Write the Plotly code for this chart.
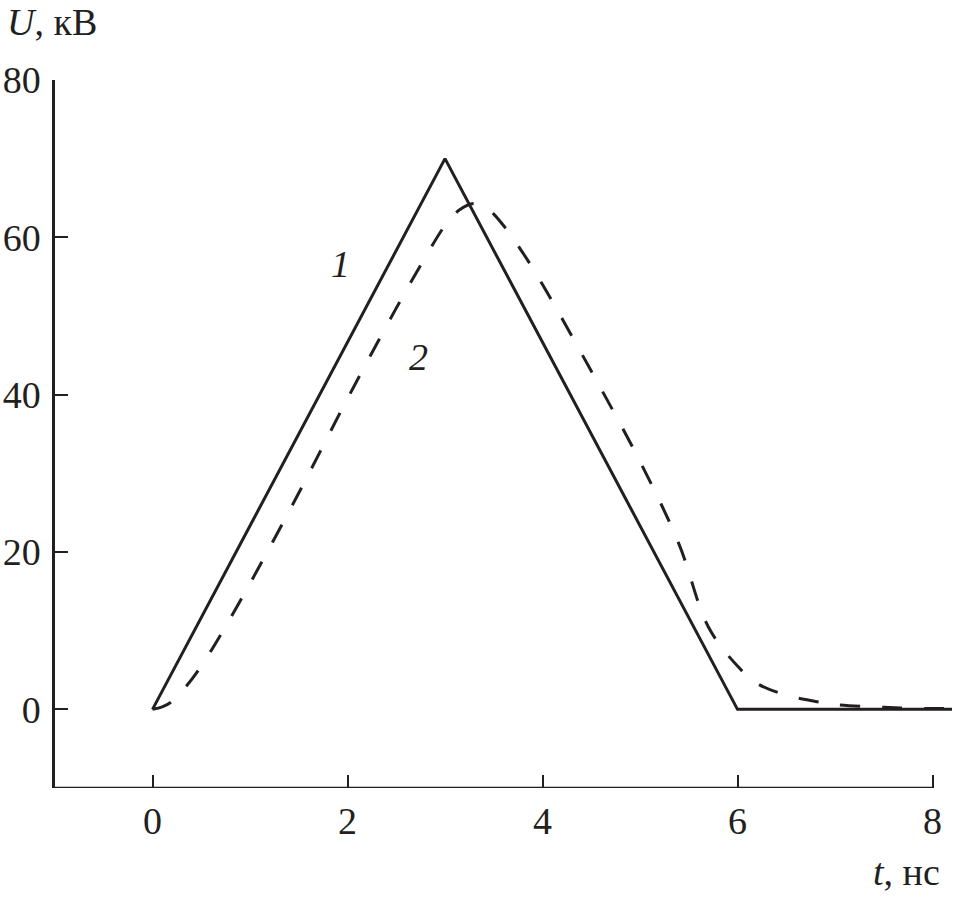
import plotly.graph_objects as go

# Curve 1 (solid)
t1 = [0, 3, 6, 8.2]
u1 = [0, 70, 0, 0]

# Curve 2 (dashed)
t2 = [0, 0.1, 0.2, 0.35, 0.5, 0.7, 1.0, 1.5, 2.0, 2.5, 2.8, 3.0, 3.15, 3.3,
      3.45, 3.6, 3.8, 4.0, 4.5, 5.0, 5.4, 5.7, 6.0, 6.2, 6.5, 6.8, 7.0, 7.5, 8.0, 8.2]
u2 = [0, 0.3, 1.0, 3.0, 5.5, 9.5, 16, 27.5, 39.5, 51, 57.5, 61.5, 63.5, 64.3,
      63.5, 61.5, 58, 54, 43, 31.5, 21, 10.5, 5.5, 3.3, 1.8, 1.0, 0.6, 0.25, 0.1, 0.1]

x_ticks = [0, 2, 4, 6, 8]
y_ticks = [0, 20, 40, 60, 80]

curve_labels = ["1", "2"]
label_x = [1.93, 2.73]
label_y = [56.6, 44.8]

INK = "#231f20"
FONT = "Liberation Serif, Times New Roman, serif"

fig = go.Figure()
fig.add_trace(go.Scatter(x=t1, y=u1, mode="lines",
                         line=dict(color=INK, width=3), showlegend=False))
fig.add_trace(go.Scatter(x=t2, y=u2, mode="lines", line_shape="spline",
                         line=dict(color=INK, width=3, dash="20px,22px"),
                         showlegend=False))

for txt, lx, ly in zip(curve_labels, label_x, label_y):
    fig.add_annotation(x=lx, y=ly, text=f"<i>{txt}</i>", showarrow=False,
                       font=dict(family=FONT, size=38, color=INK))

fig.add_annotation(xref="paper", yref="paper", x=-0.0557, y=1.082,
                   xanchor="left", yanchor="middle", showarrow=False,
                   text="<i>U</i>, кВ", font=dict(family=FONT, size=38, color=INK))
fig.add_annotation(xref="paper", yref="paper", x=0.989, y=-0.119,
                   xanchor="right", yanchor="middle", showarrow=False,
                   text="<i>t</i>, нс", font=dict(family=FONT, size=38, color=INK))

# bottom axis line, ending at the last tick
fig.add_shape(type="line", xref="x", yref="y", x0=-1, x1=8, y0=-10, y1=-10,
              line=dict(color=INK, width=2.5), layer="above")

fig.update_xaxes(range=[-1, 8.2], tickvals=x_ticks, ticktext=[str(v) for v in x_ticks],
                 ticks="inside", ticklen=13, tickwidth=2, tickcolor=INK,
                 showline=False, showgrid=False, zeroline=False, automargin=False,
                 tickfont=dict(family=FONT, size=38, color=INK),
                 ticklabelstandoff=7)
fig.update_yaxes(range=[-10, 80], tickvals=y_ticks, ticktext=[str(v) for v in y_ticks],
                 ticks="inside", ticklen=13, tickwidth=2, tickcolor=INK,
                 showline=True, linecolor=INK, linewidth=2.5, automargin=False,
                 showgrid=False, zeroline=False,
                 tickfont=dict(family=FONT, size=38, color=INK),
                 ticklabelstandoff=4)

fig.update_layout(width=954, height=898, plot_bgcolor="white", paper_bgcolor="white",
                  margin=dict(l=55, r=2, t=80, b=110, autoexpand=False), showlegend=False)

fig.write_html("out.html", config={"displayModeBar": False},
               post_script="document.body.style.margin='0';document.body.style.overflow='hidden';")
